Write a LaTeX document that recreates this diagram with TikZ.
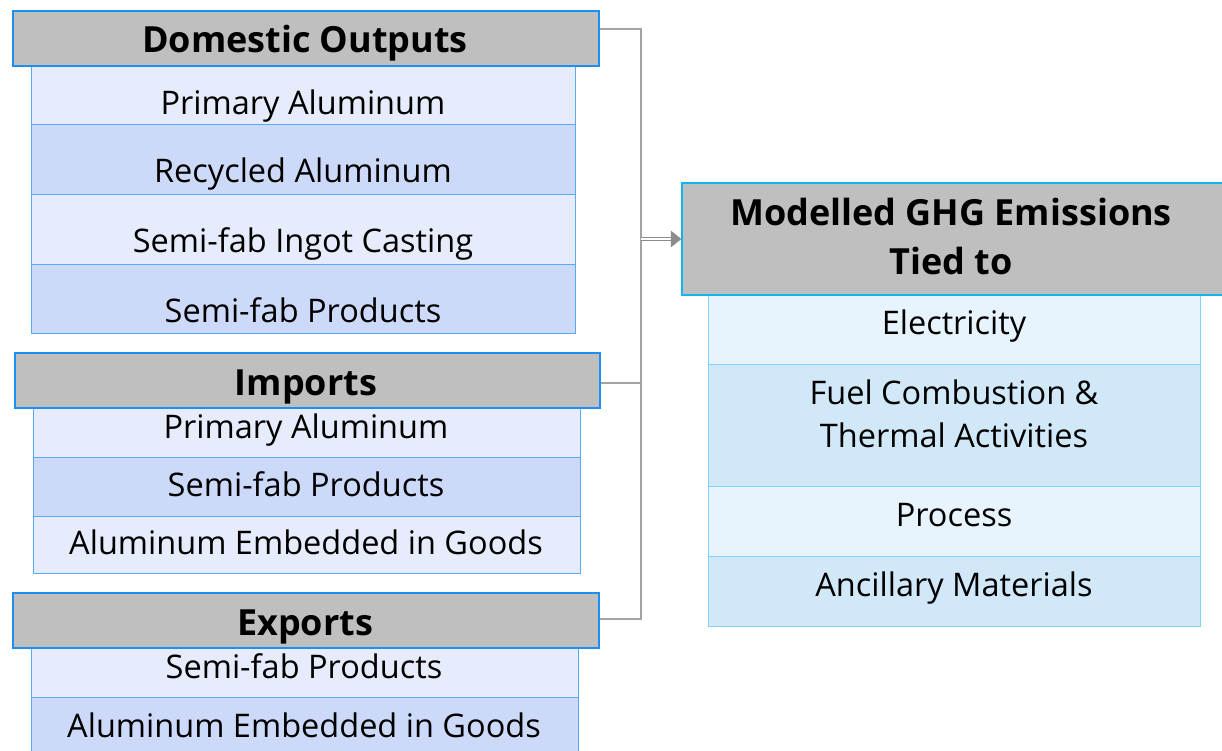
\documentclass[tikz,border=0pt]{standalone}
\usepackage{fontspec}
\setmainfont{Open Sans}
\usetikzlibrary{arrows.meta,positioning}

\definecolor{hdrfill}{HTML}{BFBFBF}
\definecolor{hdrblue}{HTML}{1E8EF0}
\definecolor{cellblue}{HTML}{5AAAF2}
\definecolor{lightA}{HTML}{E6ECFC}
\definecolor{darkA}{HTML}{CCD9F8}
\definecolor{hdrcyan}{HTML}{12B4EE}
\definecolor{cellcyan}{HTML}{80D2F6}
\definecolor{lightB}{HTML}{E7F4FD}
\definecolor{darkB}{HTML}{D1E8F9}
\definecolor{connector}{HTML}{A3A3A3}
\definecolor{arrowgray}{HTML}{8C8C8C}

\tikzset{
  header/.style={draw=hdrblue, line width=2.2pt, fill=hdrfill, inner sep=0pt, anchor=north west},
  cellbox/.style={draw=cellblue, line width=1.3pt, inner sep=0pt, anchor=north west},
  rheader/.style={header, draw=hdrcyan},
  rcellbox/.style={cellbox, draw=cellcyan},
  txt/.style={inner sep=0pt, anchor=base, font=\fontsize{32.5}{38}\selectfont},
  htxt/.style={inner sep=0pt, anchor=base, font=\fontsize{36}{42}\selectfont\bfseries},
  conn/.style={draw=connector, line width=1.6pt},
}

\begin{document}
\begin{tikzpicture}[x=1pt, y=-1pt]
\useasboundingbox (0,0) rectangle (1222,751);

% Domestic outputs
\node[cellbox, fill=lightA, minimum width=544pt, minimum height=59pt] (d1) at (31,65) {};
\node[cellbox, fill=darkA,  minimum width=544pt, minimum height=70pt] (d2) at (31,124) {};
\node[cellbox, fill=lightA, minimum width=544pt, minimum height=70pt] (d3) at (31,194) {};
\node[cellbox, fill=darkA,  minimum width=544pt, minimum height=69pt] (d4) at (31,264) {};
\node[txt] at (303,114.5) {Primary Aluminum};
\node[txt] at (303,182.5) {Recycled Aluminum};
\node[txt] at (303,252.5) {Semi-fab Ingot Casting};
\node[txt] at (303,322.5) {Semi-fab Products};
\node[header, minimum width=586pt, minimum height=55pt] (dom) at (12,10) {};
\node[htxt] at (305,52.5) {Domestic Outputs};

% Imports
\node[cellbox, fill=lightA, minimum width=547pt, minimum height=50pt] (i1) at (33,407) {};
\node[cellbox, fill=darkA,  minimum width=547pt, minimum height=59pt] (i2) at (33,457) {};
\node[cellbox, fill=lightA, minimum width=547pt, minimum height=57pt] (i3) at (33,516) {};
\node[txt] at (306,438.5) {Primary Aluminum};
\node[txt] at (306,496.5) {Semi-fab Products};
\node[txt] at (306,554.5) {Aluminum Embedded in Goods};
\node[header, minimum width=585pt, minimum height=55pt] (imp) at (14,352) {};
\node[htxt] at (306,395.5) {Imports};

% Exports
\node[cellbox, fill=lightA, minimum width=547pt, minimum height=50pt] (e1) at (31,647) {};
\node[cellbox, fill=darkA,  minimum width=547pt, minimum height=60pt] (e2) at (31,697) {};
\node[txt] at (304,678.5) {Semi-fab Products};
\node[txt] at (304,737.5) {Aluminum Embedded in Goods};
\node[header, minimum width=586pt, minimum height=55pt] (exp) at (12,592) {};
\node[htxt] at (305,635.5) {Exports};

% Modelled emissions
\node[rcellbox, fill=lightB, minimum width=492pt, minimum height=70pt] (m1) at (708,294) {};
\node[rcellbox, fill=darkB,  minimum width=492pt, minimum height=122pt] (m2) at (708,364) {};
\node[rcellbox, fill=lightB, minimum width=492pt, minimum height=70pt] (m3) at (708,486) {};
\node[rcellbox, fill=darkB,  minimum width=492pt, minimum height=70pt] (m4) at (708,556) {};
\node[txt] at (954,334.5) {Electricity};
\node[txt] at (954,404.5) {Fuel Combustion \&};
\node[txt] at (954,447.5) {Thermal Activities};
\node[txt] at (954,526.5) {Process};
\node[txt] at (954,596.5) {Ancillary Materials};
\node[rheader, minimum width=545pt, minimum height=112pt] (ghg) at (681,182) {};
\node[htxt] at (951,225.5) {Modelled GHG Emissions};
\node[htxt] at (951,274.5) {Tied to};

% Connectors into the emissions box
\coordinate (bus) at (641,239);
\draw[conn] (dom.east |- 0,29) -| (641,619) -- (exp.east |- 0,619);
\draw[conn] (imp.east |- 0,383) -- (641,383);
\draw[draw=arrowgray, line width=1.2pt, double=white, double distance=1.6pt] (bus) -- (671,239);
\draw[draw=arrowgray, fill=arrowgray] (671,231) -- (ghg.west |- bus) -- (671,247) -- cycle;
\end{tikzpicture}
\end{document}
